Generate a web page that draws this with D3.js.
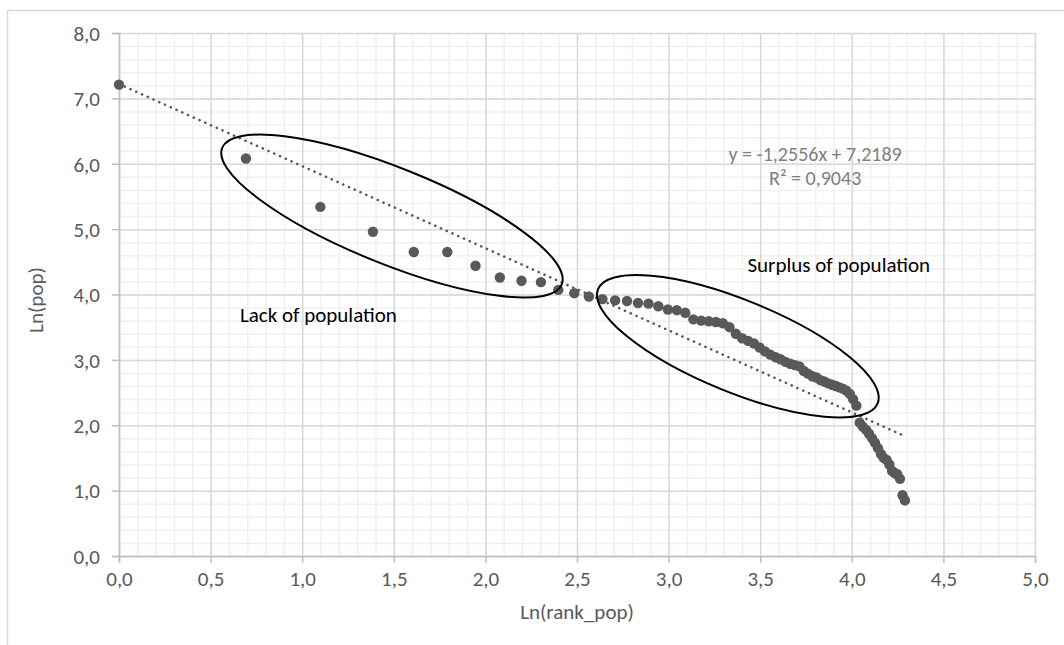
<!DOCTYPE html>
<html>
<head>
<meta charset="utf-8">
<script src="https://cdn.jsdelivr.net/npm/d3@7"></script>
<style>
  html, body { margin: 0; padding: 0; background: #fff; }
  svg { display: block; font-family: Carlito, Calibri, Lato, sans-serif; }
</style>
</head>
<body>
<div id="chart"></div>
<script>
// Ln(rank) of each city
const rankLn = [
  0.000, 0.693, 1.099, 1.386, 1.609, 1.792, 1.946, 2.079, 2.197, 2.303,
  2.398, 2.485, 2.565, 2.639, 2.708, 2.773, 2.833, 2.890, 2.944, 2.996,
  3.045, 3.091, 3.135, 3.178, 3.219, 3.258, 3.296, 3.332, 3.367, 3.401,
  3.434, 3.466, 3.497, 3.526, 3.555, 3.584, 3.611, 3.638, 3.664, 3.689,
  3.714, 3.738, 3.761, 3.784, 3.807, 3.829, 3.850, 3.871, 3.892, 3.912,
  3.932, 3.951, 3.970, 3.989, 4.007, 4.025, 4.043, 4.060, 4.078, 4.094,
  4.111, 4.127, 4.143, 4.159, 4.174, 4.190, 4.205, 4.220, 4.234, 4.248,
  4.263, 4.277, 4.290
];
// Ln(pop)
const popLn = [
  7.21, 6.08, 5.34, 4.96, 4.65, 4.65, 4.44, 4.26, 4.21, 4.19,
  4.07, 4.02, 3.97, 3.93, 3.91, 3.90, 3.87, 3.86, 3.82, 3.77,
  3.76, 3.72, 3.62, 3.60, 3.59, 3.58, 3.56, 3.50, 3.40, 3.33,
  3.29, 3.25, 3.19, 3.13, 3.08, 3.04, 3.01, 2.97, 2.94, 2.92,
  2.90, 2.83, 2.79, 2.75, 2.73, 2.69, 2.67, 2.64, 2.62, 2.60,
  2.58, 2.56, 2.53, 2.48, 2.40, 2.30, 2.04, 1.98, 1.93, 1.87,
  1.80, 1.73, 1.65, 1.56, 1.50, 1.47, 1.40, 1.30, 1.27, 1.25,
  1.18, 0.93, 0.85
];

const xTicks = [0, 0.5, 1, 1.5, 2, 2.5, 3, 3.5, 4, 4.5, 5];
const yTicks = [0, 1, 2, 3, 4, 5, 6, 7, 8];

// linear trend shown on the chart
const trendSlope = -1.2556;
const trendIntercept = 7.2189;
const trendLabel = ['y = -1,2556x + 7,2189', 'R\u00b2 = 0,9043'];

const groupLabels = ['Lack of population', 'Surplus of population'];

const width = 1064, height = 645;
const margin = { left: 119, right: 29, top: 33, bottom: 89 };
const fontSize = '21px';

const x = d3.scaleLinear().domain([0, 5]).range([margin.left, width - margin.right]);
const y = d3.scaleLinear().domain([0, 8]).range([height - margin.bottom, margin.top]);

const locale = d3.formatLocale({ decimal: ',', thousands: ' ', grouping: [3], currency: ['', ''] });
const fmt = locale.format('.1f');

const svg = d3.select('#chart').append('svg')
  .attr('width', width)
  .attr('height', height);

// chart area border (only left and top visible in the picture)
svg.append('rect')
  .attr('x', 7.5).attr('y', 10.5)
  .attr('width', 1200).attr('height', 800)
  .attr('fill', '#fff')
  .attr('stroke', '#d9d9d9')
  .attr('stroke-width', 1.5);

const grid = svg.append('g');

// minor grid
grid.append('g')
  .attr('transform', `translate(0,${y(0)})`)
  .call(d3.axisBottom(x).ticks(50).tickSize(-(y(0) - y(8))).tickFormat(''))
  .call(g => g.select('.domain').remove())
  .call(g => g.selectAll('line').attr('stroke', '#f0f0f0').attr('stroke-width', 1.5));
grid.append('g')
  .attr('transform', `translate(${x(0)},0)`)
  .call(d3.axisLeft(y).ticks(40).tickSize(-(x(5) - x(0))).tickFormat(''))
  .call(g => g.select('.domain').remove())
  .call(g => g.selectAll('line').attr('stroke', '#f0f0f0').attr('stroke-width', 1.5));

// major grid
grid.append('g')
  .attr('transform', `translate(0,${y(0)})`)
  .call(d3.axisBottom(x).tickValues(xTicks).tickSize(-(y(0) - y(8))).tickFormat(''))
  .call(g => g.select('.domain').remove())
  .call(g => g.selectAll('line').attr('stroke', '#d9d9d9').attr('stroke-width', 1.5));
grid.append('g')
  .attr('transform', `translate(${x(0)},0)`)
  .call(d3.axisLeft(y).tickValues(yTicks).tickSize(-(x(5) - x(0))).tickFormat(''))
  .call(g => g.select('.domain').remove())
  .call(g => g.selectAll('line').attr('stroke', '#d9d9d9').attr('stroke-width', 1.5));

// axes
const xAxis = svg.append('g')
  .attr('transform', `translate(0,${y(0)})`)
  .call(d3.axisBottom(x).tickValues(xTicks).tickSize(7).tickPadding(8).tickFormat(fmt));
const yAxis = svg.append('g')
  .attr('transform', `translate(${x(0)},0)`)
  .call(d3.axisLeft(y).tickValues(yTicks).tickSize(7).tickPadding(12).tickFormat(fmt));

[xAxis, yAxis].forEach(a => {
  a.select('.domain').attr('stroke', '#bfbfbf').attr('stroke-width', 1.5);
  a.selectAll('.tick line').attr('stroke', '#bfbfbf').attr('stroke-width', 1.5);
  a.selectAll('.tick text')
    .attr('fill', '#595959')
    .style('font-size', fontSize)
    .style('font-family', 'Carlito, Calibri, Lato, sans-serif');
});
yAxis.selectAll('.tick text').attr('dy', '0.35em');

// axis titles
svg.append('text')
  .attr('x', (x(0) + x(5)) / 2)
  .attr('y', 619)
  .attr('text-anchor', 'middle')
  .attr('fill', '#595959')
  .style('font-size', fontSize)
  .text('Ln(rank_pop)');
svg.append('text')
  .attr('transform', `translate(43,300) rotate(-90)`)
  .attr('text-anchor', 'middle')
  .attr('fill', '#595959')
  .style('font-size', fontSize)
  .text('Ln(pop)');

// trend line
const xMax = d3.max(rankLn);
svg.append('line')
  .attr('x1', x(0)).attr('y1', y(trendIntercept))
  .attr('x2', x(xMax)).attr('y2', y(trendSlope * xMax + trendIntercept))
  .attr('stroke', '#595959')
  .attr('stroke-width', 2.6)
  .attr('stroke-linecap', 'round')
  .attr('stroke-dasharray', '0.1 6.2');

// points
svg.append('g')
  .selectAll('circle')
  .data(rankLn.map((d, i) => ({ x: d, y: popLn[i] })))
  .join('circle')
  .attr('cx', d => x(d.x))
  .attr('cy', d => y(d.y))
  .attr('r', 5.2)
  .attr('fill', '#595959');

// hand-drawn ellipses around the two groups (centre in data units)
const ellipses = [
  { cx: 1.49, cy: 5.20, rx: 183, ry: 48, angle: 21.9 },
  { cx: 3.378, cy: 3.208, rx: 151, ry: 46, angle: 22.2 }
];
svg.append('g')
  .selectAll('ellipse')
  .data(ellipses)
  .join('ellipse')
  .attr('transform', d => `translate(${x(d.cx)},${y(d.cy)}) rotate(${d.angle})`)
  .attr('rx', d => d.rx)
  .attr('ry', d => d.ry)
  .attr('fill', 'none')
  .attr('stroke', '#000')
  .attr('stroke-width', 2);

// group labels
svg.append('text')
  .attr('x', x(0.66)).attr('y', y(3.685))
  .attr('dy', '0.35em')
  .attr('fill', '#000')
  .style('font-size', fontSize)
  .text(groupLabels[0]);
svg.append('text')
  .attr('x', x(3.43)).attr('y', y(4.45))
  .attr('dy', '0.35em')
  .attr('fill', '#000')
  .style('font-size', fontSize)
  .text(groupLabels[1]);

// trend equation
svg.append('g')
  .selectAll('text')
  .data(trendLabel)
  .join('text')
  .attr('x', x(3.80))
  .attr('y', (d, i) => y(6.13) - 1 + i * 24)
  .attr('dy', '0.35em')
  .attr('text-anchor', 'middle')
  .attr('fill', '#808080')
  .style('font-size', '20px')
  .text(d => d);
</script>
</body>
</html>
